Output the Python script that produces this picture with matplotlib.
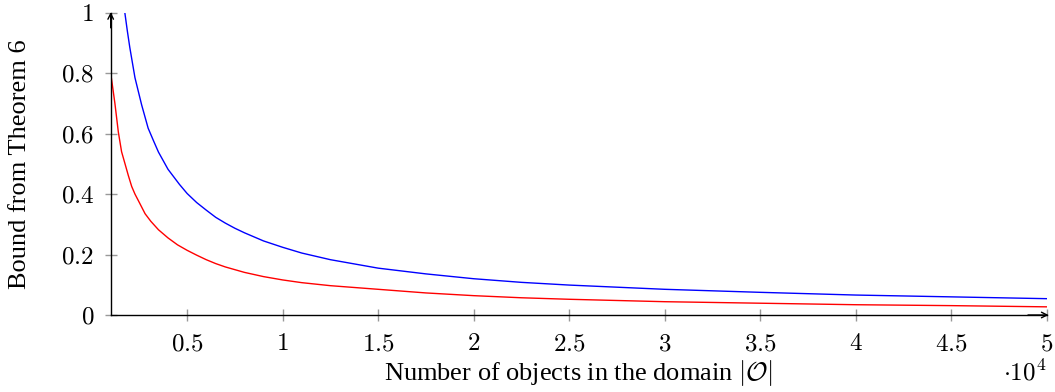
import numpy as np
import matplotlib
matplotlib.use("Agg")
import matplotlib.pyplot as plt
from matplotlib.ticker import FixedLocator, FixedFormatter

plt.rcParams['font.family'] = ['Liberation Serif', 'DejaVu Serif']
plt.rcParams['mathtext.fontset'] = 'cm'

# values
red_x = [1000, 1100, 1220, 1400, 1570, 1750, 1920, 2100, 2270, 2500, 2800, 3100,
         3500, 4000, 4500, 5000, 5500, 6000, 6500, 7000, 8000, 9000, 10000, 11000,
         12500, 15000, 17500, 20000, 22500, 25000, 30000, 35000, 40000, 45000, 50000]
red_y = [0.80, 0.755, 0.70, 0.605, 0.54, 0.50, 0.462, 0.425, 0.400, 0.372, 0.335, 0.310,
         0.282, 0.255, 0.232, 0.214, 0.198, 0.183, 0.170, 0.159, 0.141, 0.127, 0.116, 0.107,
         0.097, 0.085, 0.073, 0.064, 0.057, 0.052, 0.044, 0.039, 0.034, 0.031, 0.027]

blue_x = [1740, 1870, 2000, 2270, 2620, 2960, 3250, 3500, 4000, 4600, 5000, 5500,
          6000, 6500, 7000, 7500, 8000, 9000, 10000, 11000, 12500, 15000, 17500, 20000,
          22500, 25000, 30000, 35000, 40000, 45000, 50000]
blue_y = [1.00, 0.94, 0.885, 0.785, 0.695, 0.618, 0.575, 0.539, 0.482, 0.432, 0.402, 0.372,
          0.347, 0.323, 0.304, 0.287, 0.272, 0.245, 0.224, 0.205, 0.183, 0.155, 0.136, 0.120,
          0.108, 0.099, 0.085, 0.075, 0.066, 0.060, 0.054]

x_ticks = [5000, 10000, 15000, 20000, 25000, 30000, 35000, 40000, 45000, 50000]
x_tick_labels = ['0.5', '1', '1.5', '2', '2.5', '3', '3.5', '4', '4.5', '5']
y_ticks = [0, 0.2, 0.4, 0.6, 0.8, 1.0]
y_tick_labels = ['0', '0.2', '0.4', '0.6', '0.8', '1']

fig = plt.figure(figsize=(10.55, 3.92), dpi=100)
ax = fig.add_axes([110.7 / 1055, 77 / 392, 936 / 1055, 302.3 / 392])

ax.plot(blue_x, blue_y, color='blue', lw=1.0)
ax.plot(red_x, red_y, color='red', lw=1.0)

ax.set_xlim(1000, 50000)
ax.set_ylim(0, 1)

for side in ['top', 'right']:
    ax.spines[side].set_visible(False)
for side in ['left', 'bottom']:
    ax.spines[side].set_linewidth(1.0)

# arrow heads at the ends of the axes
ax.annotate('', xy=(1.002, 0), xytext=(0.98, 0), xycoords='axes fraction',
            arrowprops=dict(arrowstyle='->', lw=1.0, color='black', shrinkA=0, shrinkB=0))
ax.annotate('', xy=(0, 1.002), xytext=(0, 0.95), xycoords='axes fraction',
            arrowprops=dict(arrowstyle='->', lw=1.0, color='black', shrinkA=0, shrinkB=0))

ax.xaxis.set_major_locator(FixedLocator(x_ticks))
ax.xaxis.set_major_formatter(FixedFormatter(['$%s$' % s for s in x_tick_labels]))
ax.yaxis.set_major_locator(FixedLocator(y_ticks))
ax.yaxis.set_major_formatter(FixedFormatter(['$%s$' % s for s in y_tick_labels]))

ax.tick_params(direction='inout', length=8, width=1.0, color='#999999', labelsize=18)
ax.tick_params(axis='y', pad=8)
ax.tick_params(axis='x', pad=9)

ax.text(1.0, -0.216, r'$\cdot 10^4$', transform=ax.transAxes, ha='right', va='baseline',
        fontsize=18)

ax.set_xlabel(r'Number of objects in the domain $|\mathcal{O}|$', fontsize=19)
ax.xaxis.label.set_va('baseline')
ax.xaxis.set_label_coords(0.5, -0.214)
ax.set_ylabel('Bound from Theorem 6', fontsize=19)
ax.yaxis.set_label_coords(-0.085, 0.5)

fig.savefig('out.png', dpi=100)
